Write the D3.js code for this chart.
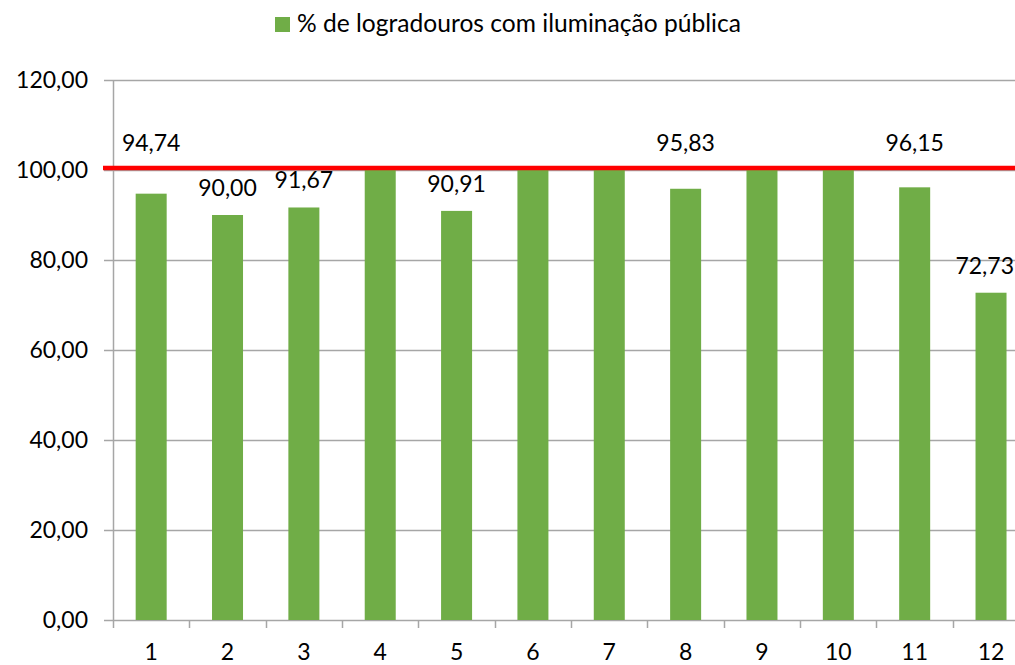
<!DOCTYPE html>
<html>
<head>
<meta charset="utf-8">
<script src="https://cdn.jsdelivr.net/npm/d3@7"></script>
<style>
  html, body { margin: 0; padding: 0; background: #fff; }
  svg { display: block; font-family: Lato, "Open Sans", sans-serif; }
</style>
</head>
<body>
<svg id="chart" width="1015" height="665"></svg>
<script>
const categories = ["1","2","3","4","5","6","7","8","9","10","11","12"];
const values = [94.74, 90.00, 91.67, 100, 90.91, 100, 100, 95.83, 100, 100, 96.15, 72.73];
const yTicks = [0, 20, 40, 60, 80, 100, 120];
const referenceValue = [100];
const seriesName = "% de logradouros com iluminação pública";

(function () {
const svg = d3.select("#chart");
const W = 1015, H = 665;
const mLeft = 113, mTop = 80, mBottom = 620;
const mRight = mLeft + 12 * 76.35;

const fmt = v => v.toFixed(2).replace(".", ",");

const xb = d3.scaleBand().domain(categories).range([mLeft, mRight]);
const y = d3.scaleLinear().domain([0, 120]).range([mBottom, mTop]);

const gridColor = "#a6a6a6";

// gridlines
svg.append("g").selectAll("line").data(yTicks).join("line")
  .attr("x1", mLeft - 9).attr("x2", W)
  .attr("y1", d => Math.round(y(d)) + 0.5).attr("y2", d => Math.round(y(d)) + 0.5)
  .attr("stroke", gridColor).attr("stroke-width", 1.5);

// y axis line
svg.append("line").attr("x1", mLeft + 0.5).attr("x2", mLeft + 0.5)
  .attr("y1", mTop).attr("y2", mBottom + 8)
  .attr("stroke", gridColor).attr("stroke-width", 1.5);

// x ticks at band boundaries
const bounds = categories.map(c => xb(c)).concat([mRight]);
svg.append("g").selectAll("line").data(bounds.slice(1)).join("line")
  .attr("x1", d => Math.round(d) + 0.5).attr("x2", d => Math.round(d) + 0.5)
  .attr("y1", mBottom).attr("y2", mBottom + 8)
  .attr("stroke", gridColor).attr("stroke-width", 1.5);

// y tick labels
svg.append("g").selectAll("text").data(yTicks).join("text")
  .attr("x", 88).attr("y", d => y(d) + 8)
  .attr("text-anchor", "end")
  .attr("font-size", 23).attr("fill", "#000")
  .text(d => fmt(d));

// x tick labels
svg.append("g").selectAll("text").data(categories).join("text")
  .attr("x", d => xb(d) + xb.bandwidth() / 2).attr("y", 660)
  .attr("text-anchor", "middle")
  .attr("font-size", 23).attr("fill", "#000")
  .text(d => d);

// bars
svg.append("g").selectAll("rect").data(values).join("rect")
  .attr("x", (d, i) => xb(categories[i]) + xb.bandwidth() / 2 - 15.5)
  .attr("width", 31)
  .attr("y", d => y(d))
  .attr("height", d => mBottom - y(d))
  .attr("fill", "#70ad47");

// reference line
svg.append("g").selectAll("line").data(referenceValue).join("line")
  .attr("x1", mLeft - 10).attr("x2", W)
  .attr("y1", d => y(d) - 2).attr("y2", d => y(d) - 2)
  .attr("stroke", "#ff0000").attr("stroke-width", 4.5);

// data labels (moved above the reference line when they would overlap it)
const yRef = y(referenceValue[0]);
const labels = svg.append("g").selectAll("text").data(values.map((v, i) => ({v, i})).filter(d => d.v < 100)).join("text")
  .attr("x", d => xb(categories[d.i]) + xb.bandwidth() / 2)
  .attr("y", d => {
    const b = y(d.v) - 19;
    return (b - 16 < yRef) ? yRef - 19 : b;
  })
  .attr("text-anchor", "middle")
  .attr("font-size", 23).attr("fill", "#000")
  .text(d => fmt(d.v));
// keep labels inside the picture
labels.each(function () {
  const bb = this.getBBox();
  const over = bb.x + bb.width - (W - 1);
  if (over > 0) d3.select(this).attr("x", +d3.select(this).attr("x") - over);
});

// legend
const lg = svg.append("g");
lg.append("rect").attr("x", 275).attr("y", 17).attr("width", 15).attr("height", 15).attr("fill", "#70ad47");
lg.append("text").attr("x", 297).attr("y", 32).attr("font-size", 24.6).attr("fill", "#000").text(seriesName);
})();
</script>
</body>
</html>
